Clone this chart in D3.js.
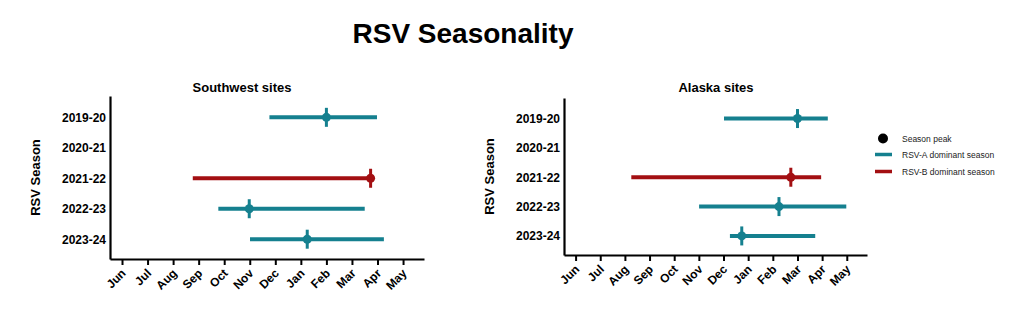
<!DOCTYPE html>
<html>
<head>
<meta charset="utf-8">
<script src="https://cdn.jsdelivr.net/npm/d3@7"></script>
<style>
  html, body { margin: 0; padding: 0; background: #fff; }
  svg { display: block; font-family: "Liberation Sans", Arial, sans-serif; }
</style>
</head>
<body>
<svg id="chart" width="1024" height="326"></svg>
<script>
// Month ticks along the x axis (June = 0 ... May = 11)
const months = ["Jun", "Jul", "Aug", "Sep", "Oct", "Nov", "Dec", "Jan", "Feb", "Mar", "Apr", "May"];
// RSV seasons on the y axis
const seasons = ["2019-20", "2020-21", "2021-22", "2022-23", "2023-24"];

// Southwest sites: season start, end and peak in months since June 1; null = no season
const swStart = [5.77, null, 2.77, 3.77, 5.01];
const swEnd   = [9.98, null, 9.75, 9.50, 10.25];
const swPeak  = [8.00, null, 9.73, 4.98, 7.25];
const swType  = ["A", null, "B", "A", "A"];

// Alaska sites
const akStart = [6.02, null, 2.26, 5.01, 6.26];
const akEnd   = [10.23, null, 9.96, 10.98, 9.72];
const akPeak  = [9.00, null, 8.73, 8.25, 6.74];
const akType  = ["A", null, "B", "A", "A"];

// Legend entries
const legendLabels = ["Season peak", "RSV-A dominant season", "RSV-B dominant season"];

const colors = { A: "#15808f", B: "#a30f12" };

const svg = d3.select("#chart");

svg.append("text")
  .attr("x", 463).attr("y", 43)
  .attr("text-anchor", "middle")
  .attr("font-size", 28).attr("font-weight", "bold")
  .text("RSV Seasonality");

function panel(cfg) {
  const g = svg.append("g");
  const x = d3.scaleLinear().domain([-0.47, 11.82]).range([cfg.x0, cfg.x1]);
  const y = d3.scaleLinear().domain([-0.7, 4.65]).range([cfg.y0, cfg.y1]);

  // subtitle
  g.append("text")
    .attr("x", cfg.titleX).attr("y", 92)
    .attr("text-anchor", "middle")
    .attr("font-size", 13).attr("font-weight", "bold")
    .text(cfg.title);

  // axis title
  g.append("text")
    .attr("transform", `translate(${cfg.x0 - 70},${(cfg.y0 + cfg.y1) / 2}) rotate(-90)`)
    .attr("text-anchor", "middle")
    .attr("font-size", 13).attr("font-weight", "bold")
    .text("RSV Season");

  // x axis
  const xAxis = d3.axisBottom(x)
    .tickValues(d3.range(months.length))
    .tickFormat(i => months[i])
    .tickSize(6)
    .tickSizeOuter(0);
  const gx = g.append("g")
    .attr("transform", `translate(0,${cfg.y1})`)
    .call(xAxis);
  gx.select(".domain").attr("stroke", "#000").attr("stroke-width", 2.2);
  gx.selectAll(".tick line").attr("stroke", "#000").attr("stroke-width", 2);
  gx.selectAll(".tick text")
    .attr("font-size", 12).attr("font-weight", "bold")
    .attr("font-family", "Liberation Sans, Arial, sans-serif")
    .attr("fill", "#000")
    .attr("text-anchor", "end")
    .attr("dy", 0)
    .attr("transform", "translate(4,15) rotate(-45)")
    .attr("y", 0).attr("x", 0);

  // y axis
  const yAxis = d3.axisLeft(y)
    .tickValues(d3.range(seasons.length))
    .tickFormat(i => seasons[i])
    .tickSize(0)
    .tickPadding(4)
    .tickSizeOuter(0);
  const gy = g.append("g")
    .attr("transform", `translate(${cfg.x0},0)`)
    .call(yAxis);
  gy.select(".domain").attr("stroke", "#000").attr("stroke-width", 2.2);
  gy.selectAll(".tick text")
    .attr("font-size", 12).attr("font-weight", "bold")
    .attr("font-family", "Liberation Sans, Arial, sans-serif")
    .attr("fill", "#000");

  // season bars and peaks
  const rows = seasons.map((s, i) => ({
    i, start: cfg.start[i], end: cfg.end[i], peak: cfg.peak[i], type: cfg.type[i]
  })).filter(d => d.start !== null);

  g.selectAll("line.season").data(rows).join("line")
    .attr("class", "season")
    .attr("x1", d => x(d.start)).attr("x2", d => x(d.end))
    .attr("y1", d => y(d.i)).attr("y2", d => y(d.i))
    .attr("stroke", d => colors[d.type]).attr("stroke-width", 4);

  g.selectAll("line.peak").data(rows).join("line")
    .attr("class", "peak")
    .attr("x1", d => x(d.peak)).attr("x2", d => x(d.peak))
    .attr("y1", d => y(d.i) - 9.5).attr("y2", d => y(d.i) + 9.5)
    .attr("stroke", d => colors[d.type]).attr("stroke-width", 3);

  g.selectAll("circle.peak").data(rows).join("circle")
    .attr("class", "peak")
    .attr("cx", d => x(d.peak)).attr("cy", d => y(d.i))
    .attr("r", 4.5)
    .attr("fill", d => colors[d.type]);
}

panel({
  title: "Southwest sites", titleX: 242,
  x0: 110, x1: 424, y0: 96, y1: 259,
  start: swStart, end: swEnd, peak: swPeak, type: swType
});

panel({
  title: "Alaska sites", titleX: 716,
  x0: 564, x1: 867, y0: 98, y1: 255,
  start: akStart, end: akEnd, peak: akPeak, type: akType
});

// legend
const lg = svg.append("g");
const lgY = [138.5, 154.5, 171.5];
lg.append("circle").attr("cx", 883).attr("cy", lgY[0]).attr("r", 5).attr("fill", "#000");
lg.append("line").attr("x1", 875).attr("x2", 892).attr("y1", lgY[1]).attr("y2", lgY[1])
  .attr("stroke", colors.A).attr("stroke-width", 3.5);
lg.append("line").attr("x1", 875).attr("x2", 892).attr("y1", lgY[2]).attr("y2", lgY[2])
  .attr("stroke", colors.B).attr("stroke-width", 3.5);
lg.selectAll("text").data(legendLabels).join("text")
  .attr("x", 902).attr("y", (d, i) => lgY[i] + 3)
  .attr("font-size", 8.5).attr("fill", "#222")
  .text(d => d);
</script>
</body>
</html>
